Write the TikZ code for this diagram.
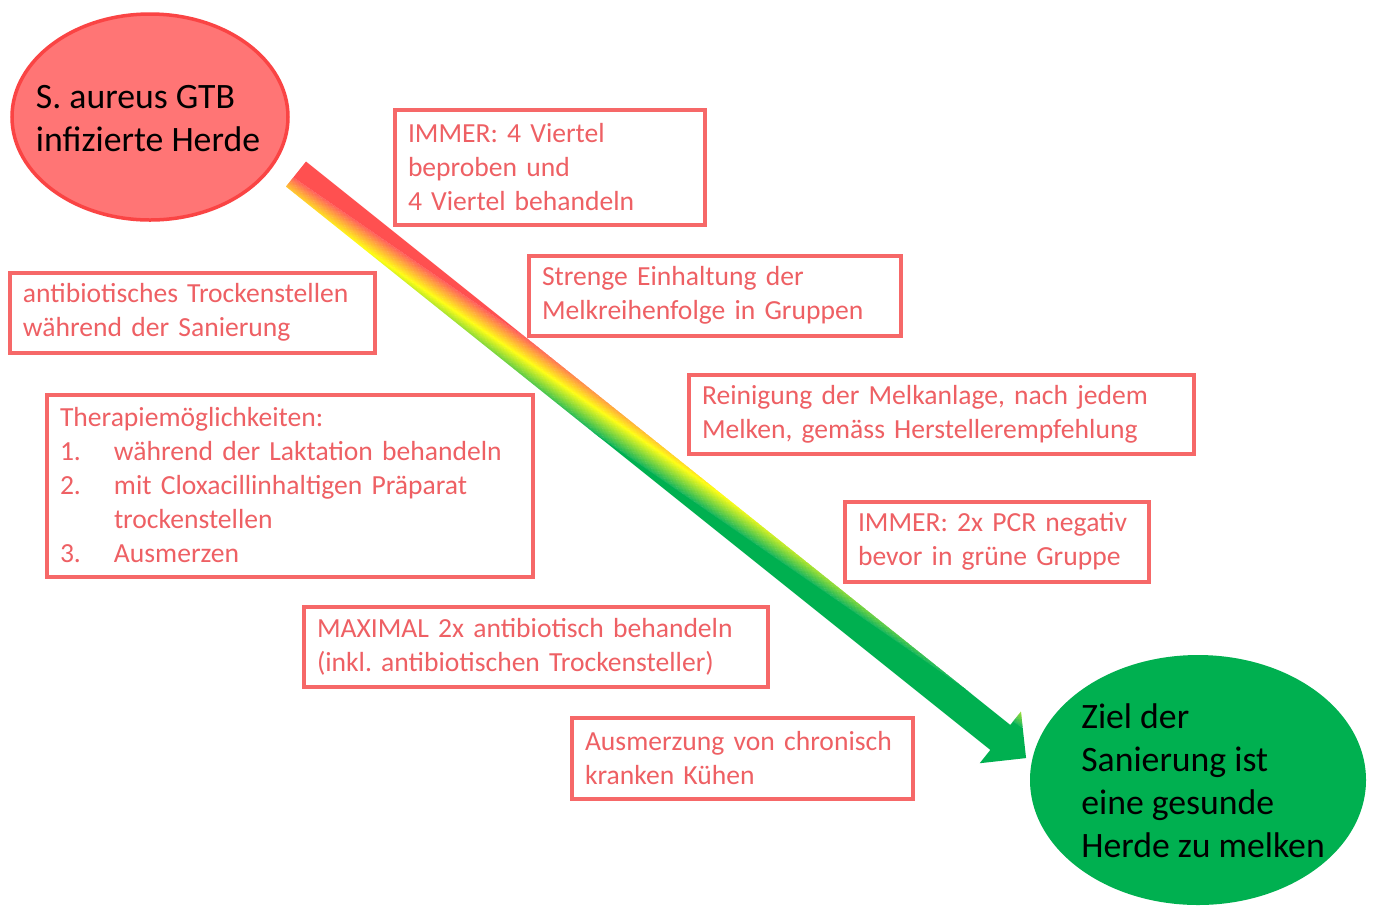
\documentclass[tikz,border=0pt]{standalone}
\usepackage{fontspec}
\setmainfont{Carlito}
\usetikzlibrary{shapes.geometric}
\frenchspacing
\definecolor{boxred}{RGB}{246,104,104}
\definecolor{txtred}{RGB}{238,96,100}
\definecolor{circfill}{RGB}{255,117,117}
\definecolor{circline}{RGB}{250,68,68}
\definecolor{goal}{RGB}{0,176,80}
\definecolor{arR}{RGB}{255,80,80}
\definecolor{arY}{RGB}{255,255,0}
\definecolor{arG}{RGB}{0,176,80}
\tikzset{
  infobox/.style={draw=boxred, line width=4pt, fill=white, text=txtred,
    font=\fontsize{27.6}{34}\selectfont\frenchspacing, align=left, inner xsep=13pt, inner ysep=0pt},
  startell/.style={ellipse, draw=circline, line width=3.5pt, fill=circfill, inner sep=0pt},
  goalell/.style={ellipse, fill=goal, inner sep=0pt},
  elltext/.style={font=\fontsize{35.7}{43}\selectfont\frenchspacing, align=left, text=black, inner sep=0pt},
}
\begin{document}
\begin{tikzpicture}[x=1pt,y=-1pt]
\useasboundingbox (0,0) rectangle (1373,906);
\fill[white] (0,0) rectangle (1373,906);

% ellipses
\node[startell, minimum width=276pt, minimum height=206pt] (start) at (150,117) {};
\node[elltext] (starttxt) at (148,119) {S. aureus GTB\\infizierte Herde};
\node[goalell, minimum width=336pt, minimum height=250pt] (goalE) at (1198,780) {};
\node[elltext] (goaltxt) at (1203,781) {Ziel der\\Sanierung ist\\eine gesunde\\Herde zu melken};

% boxes
\node[infobox, minimum height=115pt, text width=284pt] (b1) at (550,167.5)
  {IMMER: 4 Viertel\\beproben und\\4 Viertel behandeln};
\node[infobox, minimum height=80pt, text width=339pt] (b2) at (192.5,312.5)
  {antibiotisches Trockenstellen\\während der Sanierung};
\node[infobox, minimum height=80pt, text width=346pt] (b3) at (715,295.5)
  {Strenge Einhaltung der\\Melkreihenfolge in Gruppen};
\node[infobox, minimum height=79pt, text width=479pt] (b4) at (941.5,414)
  {Reinigung der Melkanlage, nach jedem\\Melken, gemäss Herstellerempfehlung};
\node[infobox, minimum height=182pt, text width=460pt] (b5) at (290,485.5)
  {Therapiemöglichkeiten:\\
   \makebox[54pt][l]{1.}während der Laktation behandeln\\
   \makebox[54pt][l]{2.}mit Cloxacillinhaltigen Präparat\\
   \hspace*{54pt}trockenstellen\\
   \makebox[54pt][l]{3.}Ausmerzen};
\node[infobox, minimum height=80pt, text width=278pt] (b6) at (997,541.5)
  {IMMER: 2x PCR negativ\\bevor in grüne Gruppe};
\node[infobox, minimum height=80pt, text width=438pt] (b7) at (536,646.5)
  {MAXIMAL 2x antibiotisch behandeln\\(inkl. antibiotischen Trockensteller)};
\node[infobox, minimum height=81pt, text width=315pt] (b8) at (742.5,758)
  {Ausmerzung von chronisch\\kranken Kühen};

% gradient arrow (t = u + 14 v; red <= 60, yellow 320, green >= 620)
\coordinate (astart) at (296,174);
\begin{scope}[shift={(astart)}, rotate=-38.66]
  \clip (0,-16) -- (902,-16) -- (902,-33) -- (935,0) -- (902,33) -- (902,16) -- (0,16) -- cycle;
  \fill[arR] (-1200,-40) -- (620,-40) -- (-500,40) -- (-1200,40) -- cycle;
  \fill[arG] (1179,-40) -- (2200,-40) -- (2200,40) -- (59,40) -- cycle;
  \foreach \i in {0,...,93} {
    \pgfmathsetmacro{\ta}{60+6*\i}
    \pgfmathsetmacro{\tb}{\ta+6.8}
    \pgfmathsetmacro{\tm}{\ta+3}
    \pgfmathsetmacro{\pr}{max(0,min(100,(\tm-60)/260*100))}
    \pgfmathsetmacro{\pg}{max(0,min(100,(\tm-320)/300*100))}
    \ifdim\tm pt<320pt \colorlet{sc}{arY!\pr!arR}\else\colorlet{sc}{arG!\pg!arY}\fi
    \fill[sc] (\ta+560,-40) -- (\tb+560,-40) -- (\tb-560,40) -- (\ta-560,40) -- cycle;
  }
\end{scope}
\end{tikzpicture}
\end{document}
